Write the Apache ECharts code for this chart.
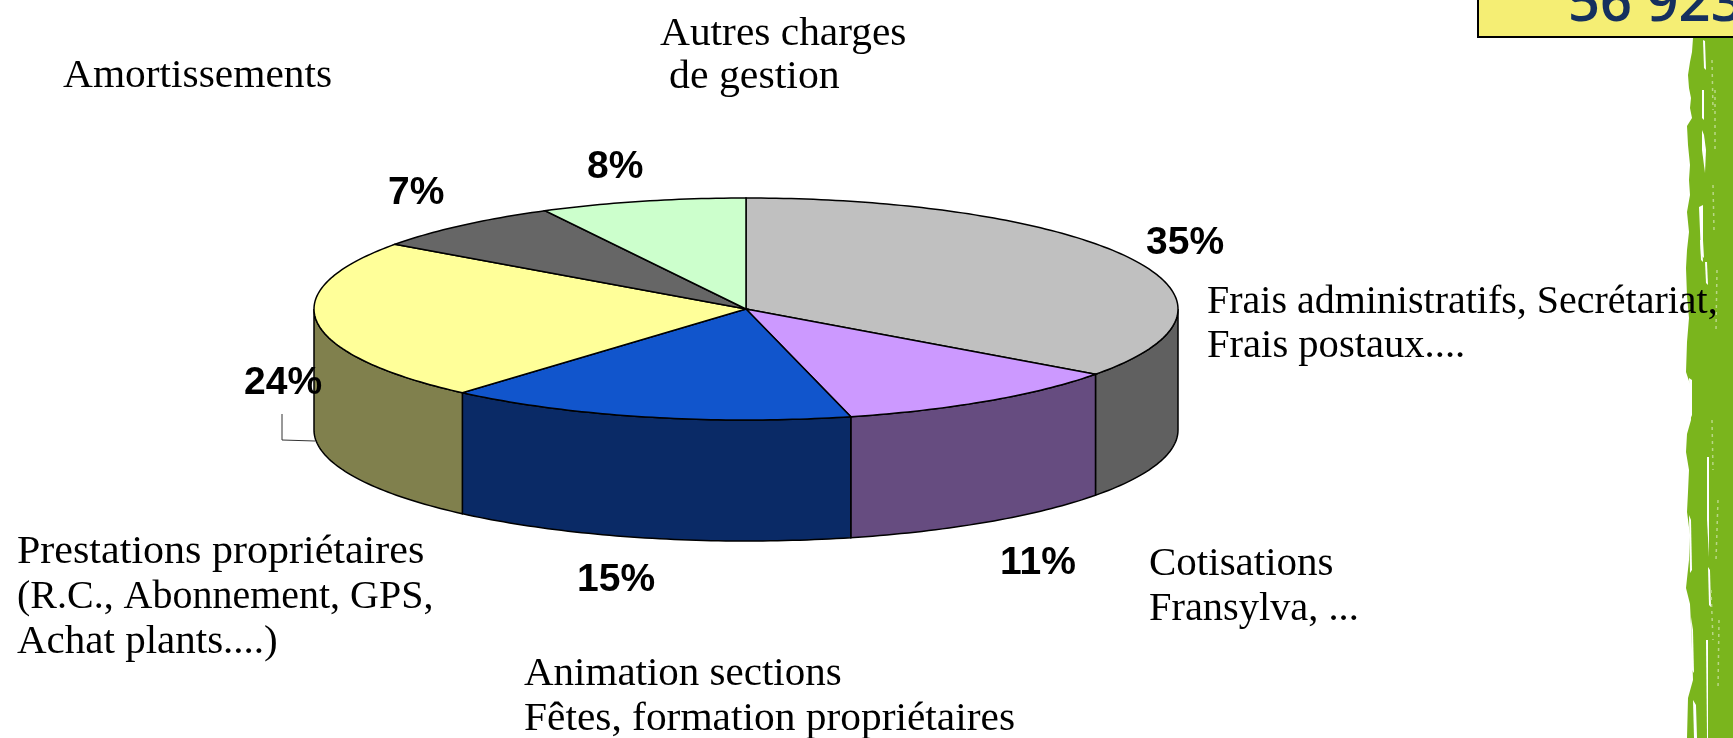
<!DOCTYPE html>
<html>
<head>
<meta charset="utf-8">
<title>Répartition des charges</title>
<script src="https://cdn.jsdelivr.net/npm/echarts@6/dist/echarts.min.js"></script>
<style>
  html, body { margin: 0; padding: 0; background: #fff; }
  #chart { width: 1733px; height: 738px; }
</style>
</head>
<body>
<div id="chart"></div>
<script>
const categories = [
  'Frais administratifs',
  'Cotisations',
  'Animation sections',
  'Prestations propriétaires',
  'Amortissements',
  'Autres charges de gestion'
]
const values = [35, 11.1, 15.3, 23.5, 7.4, 7.7]
const topColors = ['#c0c0c0', '#cc99ff', '#1155cc', '#ffff99', '#666666', '#ccffcc']
const sideColors = ['#606060', '#664c80', '#0a2a66', '#80804d', '#333333', '#668066']
const totalLabel = '56 923'

const PIE = { cx: 746, cy: 309, rx: 432, ry: 111, depth: 121 }
const SERIF = '"Liberation Serif", serif'
const SANS = '"Liberation Sans", Arial, sans-serif'

// angle en degrés depuis le haut -> point sur l'ellipse
const ellipsePoint = (deg, dy) => {
  const a = (deg * Math.PI) / 180
  return [PIE.cx + PIE.rx * Math.sin(a), PIE.cy - PIE.ry * Math.cos(a) + dy]
}

const arcPoints = (from, to, dy) => {
  const pts = []
  const steps = Math.max(2, Math.ceil(Math.abs(to - from)))
  for (let i = 0; i <= steps; i++) {
    pts.push(ellipsePoint(from + ((to - from) * i) / steps, dy))
  }
  return pts
}

const total = values.reduce((a, b) => a + b, 0)
let running = 0
const pieData = values.map((v, i) => {
  const item = { name: categories[i], value: [v, running] }
  running += v
  return item
})

const renderSlice = (params, api) => {
  const i = params.dataIndex
  const start = (api.value(1) / total) * 360
  const end = start + (api.value(0) / total) * 360
  const children = []
  // seule la moitié avant du cylindre se voit
  const wallFrom = Math.max(start, 90)
  const wallTo = Math.min(end, 270)
  if (wallTo > wallFrom) {
    const upper = arcPoints(wallFrom, wallTo, 0)
    const lower = arcPoints(wallTo, wallFrom, PIE.depth)
    children.push({
      type: 'polygon',
      shape: { points: upper.concat(lower) },
      style: { fill: sideColors[i], stroke: '#000', lineWidth: 1.5 }
    })
  }
  children.push({
    type: 'polygon',
    shape: { points: [[PIE.cx, PIE.cy]].concat(arcPoints(start, end, 0)) },
    style: { fill: topColors[i], stroke: '#000', lineWidth: 1.5 }
  })
  return { type: 'group', children }
}

// lignes de texte : [texte, x, ligne de base, étirement horizontal]
const textLines = [
  ['Amortissements', 63, 87, 1.01],
  ['Autres charges', 660, 45, 1.01],
  ['de gestion', 669, 88, 1.02],
  ['Frais administratifs, Secrétariat,', 1207, 313, 0.975],
  ['Frais postaux....', 1207, 357, 0.99],
  ['Cotisations', 1149, 575, 1],
  ['Fransylva, ...', 1149, 620, 0.985],
  ['Prestations propriétaires', 17, 563, 1.025],
  ['(R.C., Abonnement, GPS,', 17, 608, 0.975],
  ['Achat plants....)', 17, 653, 1],
  ['Animation sections', 524, 685, 1],
  ['Fêtes, formation propriétaires', 524, 730, 1.01]
]

// pourcentages, même ordre que values : [x, ligne de base]
const percentPos = [[1146, 255], [1000, 575], [577, 592], [244, 395], [388, 205], [587, 179]]

// bande verte : bord gauche irrégulier
const bandEdge = [
  [1693, 38], [1692, 52], [1690, 62], [1688, 75], [1689, 88], [1691, 98], [1690, 108],
  [1692, 118], [1687, 126], [1688, 145], [1690, 165], [1689, 180], [1690, 195], [1687, 212],
  [1689, 232], [1687, 250], [1686, 268], [1687, 296], [1689, 318], [1687, 342], [1686, 372],
  [1690, 384], [1690, 402], [1691, 420], [1687, 434], [1686, 452], [1689, 470], [1688, 492],
  [1687, 512], [1690, 535], [1689, 560], [1686, 588], [1690, 604], [1691, 625], [1692, 650],
  [1693, 680], [1688, 698], [1687, 738]
]
const whiteStreaks = [
  [[1703, 40], [1705, 41], [1706, 70], [1704, 68]],
  [[1702, 90], [1704, 90], [1704, 120], [1702, 118]],
  [[1702, 130], [1704, 135], [1706, 150], [1705, 173], [1702, 150]],
  [[1699, 207], [1703, 205], [1703, 240], [1704, 258], [1701, 255]],
  [[1700, 240], [1702, 240], [1703, 262], [1701, 260]],
  [[1705, 262], [1707, 262], [1708, 285], [1706, 283]],
  [[1689, 378], [1692, 380], [1692, 415], [1690, 420]],
  [[1707, 457], [1709, 457], [1709, 557], [1707, 520]],
  [[1689, 515], [1691, 520], [1692, 570], [1690, 573]],
  [[1708, 567], [1710, 570], [1711, 607], [1709, 605]],
  [[1691, 617], [1693, 630], [1694, 673], [1692, 670]],
  [[1706, 640], [1708, 640], [1708, 738], [1707, 738]],
  [[1693, 700], [1696, 705], [1697, 738], [1694, 738]]
]
const paleStreaks = [
  [[1712, 60], [1713, 110]], [[1715, 90], [1715, 150]], [[1713, 185], [1714, 230]],
  [[1717, 270], [1716, 330]], [[1712, 420], [1713, 470]], [[1718, 500], [1716, 560]],
  [[1711, 590], [1713, 640]], [[1719, 620], [1718, 690]]
]

const chart = echarts.init(document.getElementById('chart'))

const decoration = [
  {
    type: 'polygon',
    z: 1,
    shape: { points: bandEdge.concat([[1733, 738], [1733, 38]]) },
    style: { fill: '#7ab51d' }
  },
  ...whiteStreaks.map((points) => ({
    type: 'polygon',
    z: 2,
    shape: { points },
    style: { fill: '#fff' }
  })),
  ...paleStreaks.map(([a, b]) => ({
    type: 'line',
    z: 2,
    shape: { x1: a[0], y1: a[1], x2: b[0], y2: b[1] },
    style: { stroke: '#b9d786', lineWidth: 1.5, lineDash: [3, 4] }
  })),
  {
    type: 'rect',
    z: 3,
    shape: { x: 1478, y: -5, width: 270, height: 42 },
    style: { fill: '#f5ee74', stroke: '#000', lineWidth: 2 }
  },
  {
    type: 'text',
    z: 4,
    x: 1568,
    y: 33,
    style: {
      text: totalLabel,
      font: '600 56px "Open Sans", sans-serif',
      fill: '#15305e',
      textVerticalAlign: 'bottom'
    }
  },
  {
    type: 'polyline',
    z: 4,
    shape: { points: [[282, 414], [282, 440], [315, 441]] },
    style: { stroke: '#333', lineWidth: 1, fill: null }
  },
  ...textLines.map(([text, x, base, stretch]) => ({
    type: 'text',
    z: 20,
    x,
    y: base + 10,
    scaleX: stretch,
    style: {
      text,
      font: '41px ' + SERIF,
      fill: '#000',
      textVerticalAlign: 'bottom'
    }
  })),
  ...values.map((v, i) => ({
    type: 'text',
    z: 20,
    x: percentPos[i][0],
    y: percentPos[i][1] + 8,
    style: {
      text: Math.round(v) + '%',
      font: 'bold 39px ' + SANS,
      fill: '#000',
      textVerticalAlign: 'bottom'
    }
  }))
]

chart.setOption({
  animation: false,
  backgroundColor: '#fff',
  graphic: { elements: decoration },
  series: [
    {
      type: 'custom',
      coordinateSystem: 'none',
      z: 5,
      renderItem: renderSlice,
      data: pieData
    }
  ]
})
</script>
</body>
</html>
